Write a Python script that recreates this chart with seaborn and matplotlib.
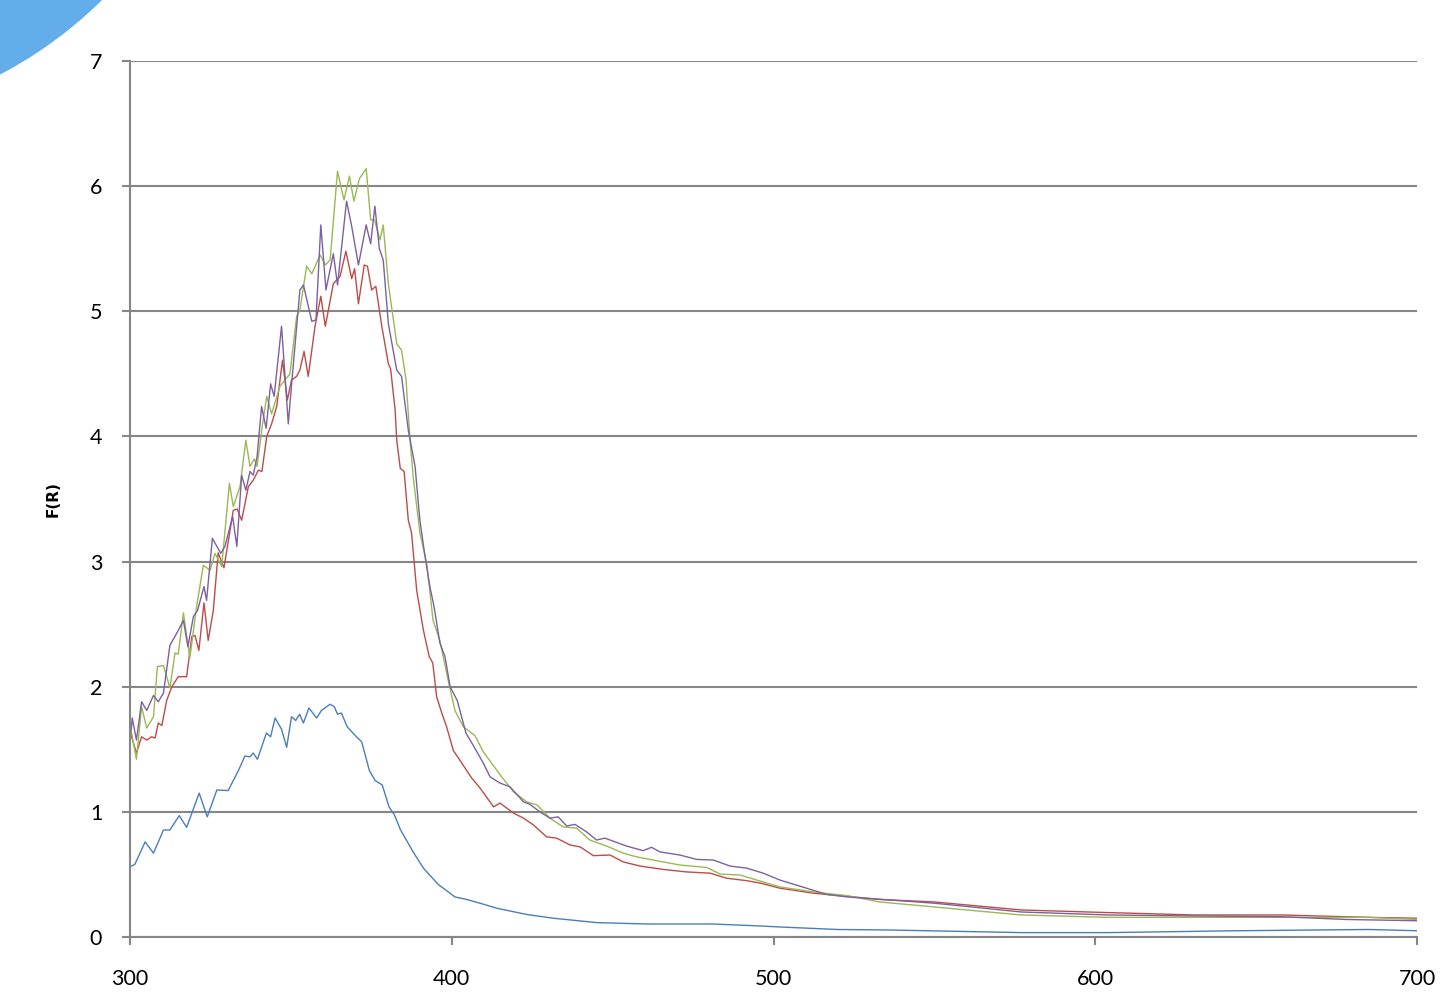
import numpy as np
import pandas as pd
import seaborn as sns
import matplotlib
matplotlib.use("Agg")
import matplotlib.pyplot as plt
from matplotlib.patches import Circle

# Diffuse-reflectance spectra, Kubelka-Munk function F(R) vs wavelength (nm)
wl_blue = [300, 301.5, 304.7, 307.3, 310.4, 312.4, 315.3, 317.6, 321.5, 324, 327, 330.5,
           333.7, 335.7, 337.3, 338.3, 339.6, 342.4, 343.7, 345.1, 347.1, 348.7, 350.2,
           351.5, 352.7, 353.9, 355.6, 358, 359.5, 362.2, 363.5, 364.5, 365.7, 367.5,
           370, 372, 374.4, 376.2, 378.4, 380.5, 382.2, 384, 388, 391.2, 395.8, 401,
           404.6, 408.8, 414, 423.3, 431.6, 445, 460.6, 481, 496, 502, 520, 536, 577,
           604, 644, 685, 700]
fr_blue = [0.56, 0.58, 0.76, 0.67, 0.855, 0.855, 0.97, 0.876, 1.15, 0.96, 1.175, 1.17,
           1.33, 1.446, 1.44, 1.47, 1.42, 1.63, 1.60, 1.75, 1.66, 1.516, 1.76,
           1.73, 1.78, 1.71, 1.83, 1.75, 1.81, 1.86, 1.84, 1.78, 1.79, 1.68,
           1.61, 1.56, 1.33, 1.25, 1.215, 1.04, 0.975, 0.86, 0.68, 0.55, 0.42, 0.32,
           0.30, 0.27, 0.23, 0.18, 0.15, 0.115, 0.104, 0.104, 0.088, 0.08, 0.06, 0.056, 0.035,
           0.035, 0.05, 0.06, 0.05]

wl_red = [300, 300.5, 302, 303.6, 305.2, 306.7, 307.8, 308.8, 309.9, 311.4, 313, 315,
          317.6, 319.2, 320.2, 321.4, 323, 324.3, 325.9, 327.4, 329.2, 330.6, 332.1,
          333.3, 334.7, 336.8, 338.3, 339.9, 341, 342.5, 344, 345.6, 347.4, 348.9,
          350.2, 351.8, 352.8, 354.1, 355.4, 357.5, 359.3, 360.7, 363.2, 365.3, 367.1,
          368.9, 369.8, 371, 372.8, 373.8, 375.1, 376.4, 378.2, 380.3, 381, 382.4,
          382.9, 384, 385.2, 386.5, 387.5, 389.1, 391.2, 393, 394.1, 395.3, 396.9,
          398.4, 400.5, 402.6, 406.2, 408.8, 413, 415, 419.2, 422.3, 425.4, 429.5,
          432.6, 436.8, 439.9, 444, 449.2, 453.3, 458.5, 465.7, 473, 480.3, 485.4,
          491.7, 496, 502, 512.4, 523, 533, 550, 577, 604, 631, 658, 685, 700]
fr_red = [1.62, 1.60, 1.47, 1.60, 1.574, 1.60, 1.59, 1.71, 1.69, 1.89, 2.00, 2.08,
          2.08, 2.40, 2.41, 2.29, 2.67, 2.37, 2.61, 3.07, 2.95, 3.17, 3.41,
          3.42, 3.33, 3.60, 3.65, 3.73, 3.72, 4.00, 4.10, 4.24, 4.61, 4.29,
          4.45, 4.48, 4.53, 4.68, 4.48, 4.88, 5.12, 4.88, 5.22, 5.28, 5.48,
          5.26, 5.34, 5.06, 5.37, 5.36, 5.17, 5.20, 4.89, 4.58, 4.54, 4.21,
          3.97, 3.745, 3.72, 3.33, 3.23, 2.77, 2.45, 2.24, 2.19, 1.92, 1.79,
          1.68, 1.49, 1.41, 1.27, 1.19, 1.04, 1.07, 0.99, 0.95, 0.895, 0.80,
          0.79, 0.735, 0.72, 0.65, 0.655, 0.60, 0.567, 0.54, 0.52, 0.51, 0.47,
          0.45, 0.43, 0.39, 0.35, 0.325, 0.30, 0.28, 0.216, 0.195, 0.176, 0.176, 0.157, 0.15]

wl_green = [300, 300.5, 302, 303.6, 305.2, 307.3, 308.5, 310.4, 312.4, 314, 315, 316.6,
            318.6, 320.7, 322.8, 324.9, 326.4, 328.5, 330.9, 332.1, 334.2, 336, 337.3,
            338.6, 339.5, 341.2, 342.5, 344, 346.6, 349.7, 351.8, 352.8, 354.9, 356.5,
            359.1, 360.7, 362.2, 364.5, 366.5, 368.2, 369.6, 371.3, 373.4, 374.8, 376,
            377.7, 378.7, 380.3, 382.9, 384.4, 385.8, 387, 388, 390.1, 392.2, 394.2,
            396.3, 398.9, 401, 403.6, 407.2, 409.8, 415.5, 419.2, 423.3, 426.5, 430.5,
            434.6, 438.8, 442.9, 448.1, 453.3, 457.5, 462.6, 470.9, 479.2, 483.4, 489.6,
            494.8, 502, 512.4, 523, 533, 550, 577, 604, 631, 658, 685, 700]
fr_green = [1.62, 1.63, 1.42, 1.84, 1.67, 1.76, 2.16, 2.17, 1.99, 2.27, 2.26, 2.59,
            2.23, 2.64, 2.97, 2.93, 3.066, 2.96, 3.625, 3.44, 3.60, 3.97, 3.76,
            3.82, 3.76, 4.10, 4.32, 4.18, 4.40, 4.50, 4.96, 5.01, 5.36, 5.30,
            5.45, 5.37, 5.41, 6.12, 5.89, 6.08, 5.88, 6.06, 6.14, 5.73, 5.73,
            5.57, 5.69, 5.22, 4.74, 4.69, 4.45, 3.985, 3.68, 3.23, 2.99, 2.53,
            2.37, 2.05, 1.81, 1.68, 1.61, 1.48, 1.28, 1.16, 1.08, 1.055, 0.95,
            0.88, 0.87, 0.775, 0.727, 0.67, 0.64, 0.615, 0.575, 0.556, 0.503, 0.495,
            0.455, 0.40, 0.36, 0.33, 0.28, 0.24, 0.176, 0.157, 0.157, 0.157, 0.157, 0.14]

wl_purple = [300, 300.7, 302, 303.6, 305.2, 307.3, 308.8, 310.4, 312.4, 315, 316.6, 318,
             319.7, 321, 323, 323.8, 325.6, 328.2, 329.5, 331.9, 333.2, 334.7, 336,
             337.3, 338.3, 339.5, 340.9, 342.3, 343.7, 344.8, 347.1, 349.2, 350.2, 352.8,
             353.9, 356.5, 357.8, 359.3, 360.9, 363.2, 364.5, 367.3, 368.9, 371, 373.4,
             374.8, 376.1, 377.5, 378.7, 380.3, 382.9, 384.4, 386.5, 388.6, 390.1, 391.7,
             393.2, 394.5, 396.3, 397.9, 399.5, 401.7, 404.4, 406.7, 409.8, 411.9, 415,
             418.1, 422.3, 424.3, 427.4, 430.5, 433.1, 435.7, 438.3, 441.9, 445, 447.6,
             454.3, 459.5, 462.1, 464.7, 470.9, 476.1, 481.3, 486.5, 491.7, 496.8, 502,
             509, 516.5, 523, 550, 577, 604, 631, 658, 678, 700]
fr_purple = [1.55, 1.75, 1.574, 1.88, 1.81, 1.93, 1.88, 1.95, 2.33, 2.45, 2.53, 2.32,
             2.56, 2.61, 2.80, 2.69, 3.186, 3.066, 3.12, 3.36, 3.12, 3.69, 3.57,
             3.72, 3.69, 3.84, 4.24, 4.065, 4.42, 4.32, 4.88, 4.10, 4.41, 5.17,
             5.21, 4.92, 4.93, 5.69, 5.17, 5.46, 5.21, 5.88, 5.68, 5.37, 5.69,
             5.54, 5.84, 5.50, 5.41, 4.90, 4.53, 4.48, 4.05, 3.76, 3.33, 3.04,
             2.80, 2.64, 2.35, 2.24, 2.00, 1.89, 1.63, 1.53, 1.39, 1.28, 1.23,
             1.20, 1.08, 1.06, 1.00, 0.95, 0.96, 0.887, 0.90, 0.84, 0.775, 0.79,
             0.727, 0.69, 0.717, 0.68, 0.655, 0.62, 0.615, 0.567, 0.55, 0.51, 0.455,
             0.40, 0.34, 0.32, 0.27, 0.20, 0.176, 0.168, 0.162, 0.14, 0.13]

series_names = ["A", "B", "C", "D"]
series_colors = ["#4A7EBB", "#BE4B48", "#98B954", "#7D60A0"]
x_ticks = [300, 400, 500, 600, 700]
y_ticks = [0, 1, 2, 3, 4, 5, 6, 7]

frames = []
for name, wl, fr in zip(series_names,
                        [wl_blue, wl_red, wl_green, wl_purple],
                        [fr_blue, fr_red, fr_green, fr_purple]):
    frames.append(pd.DataFrame({"wavelength": wl, "F(R)": fr, "sample": name}))
df = pd.concat(frames, ignore_index=True)

sns.set_theme(style="white")
plt.rcParams["font.family"] = ["Lato", "DejaVu Sans"]

W, H = 1443, 998
fig = plt.figure(figsize=(W / 100, H / 100), dpi=100)

# decorative corner shape, drawn in pixel space
bg = fig.add_axes([0, 0, 1, 1], zorder=0)
bg.set_xlim(0, W)
bg.set_ylim(H, 0)
bg.axis("off")
bg.add_patch(Circle((-200, -306), 430, color="#62ADEA", lw=0))

ax = fig.add_axes([130 / W, 1 - 937 / H, 1287 / W, 876 / H], zorder=1)
ax.patch.set_alpha(0)

sns.lineplot(data=df, x="wavelength", y="F(R)", hue="sample",
             palette=dict(zip(series_names, series_colors)),
             estimator=None, legend=False, linewidth=1.0, ax=ax)

grid_color = "#868686"
ax.set_xlim(300, 700)
ax.set_ylim(0, 7)
ax.set_xticks(x_ticks)
ax.set_yticks(y_ticks)
ax.yaxis.grid(True, color=grid_color, linewidth=1.5)
ax.xaxis.grid(False)
ax.set_axisbelow(True)
for side in ["top", "right"]:
    ax.spines[side].set_visible(False)
for side in ["left", "bottom"]:
    ax.spines[side].set_color(grid_color)
    ax.spines[side].set_linewidth(1.5)

ax.tick_params(axis="both", direction="out", length=6, width=1.5,
               color=grid_color, labelsize=15.5, labelcolor="black")
ax.tick_params(axis="y", pad=14, left=True)
ax.tick_params(axis="x", pad=17, bottom=True)

ax.set_xlabel("")
ax.set_ylabel("F(R)", fontsize=11, fontweight="bold", color="black",
              family=["DejaVu Sans"])
ax.yaxis.set_label_coords(-0.054, 0.5)

fig.savefig("out.png", dpi=100)
